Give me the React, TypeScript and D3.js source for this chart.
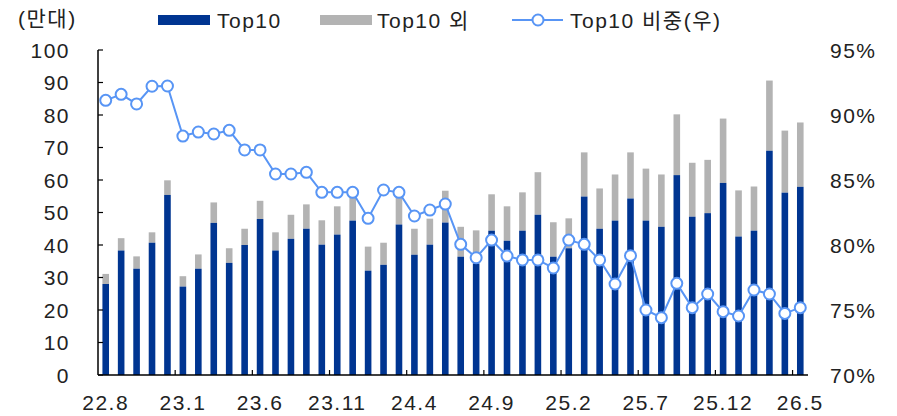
import React from 'react';
import * as d3 from 'd3';

const months: string[] = [];
{
  let y = 22, m = 8;
  for (let i = 0; i < 46; i++) {
    months.push(`${y}.${m}`);
    m++;
    if (m > 12) { m = 1; y++; }
  }
}
const tickLabels = ['22.8', '23.1', '23.6', '23.11', '24.4', '24.9', '25.2', '25.7', '25.12', '26.5'];

const top10 = [28.0, 38.3, 32.7, 40.7, 55.4, 27.2, 32.7, 46.8, 34.5, 40.0, 48.0, 38.3, 41.9, 45.0, 40.1, 43.2, 47.5, 32.1, 33.9, 46.3, 37.0, 40.1, 46.9, 36.4, 34.3, 44.4, 41.3, 44.4, 49.3, 36.4, 39.0, 54.9, 45.0, 47.5, 54.3, 47.5, 45.6, 61.5, 48.7, 49.8, 59.1, 42.6, 44.4, 69.0, 56.1, 57.9];
const total = [31.1, 42.1, 36.5, 43.9, 59.9, 30.4, 37.1, 53.1, 39.0, 45.0, 53.6, 43.9, 49.3, 52.5, 47.6, 51.9, 56.0, 39.5, 40.7, 55.0, 45.0, 48.1, 56.7, 45.6, 44.5, 55.6, 51.9, 56.2, 62.4, 47.0, 48.2, 68.5, 57.4, 61.7, 68.5, 63.5, 61.7, 80.2, 65.3, 66.2, 78.9, 56.8, 58.0, 90.6, 75.2, 77.7];
const share = [91.13, 91.59, 90.85, 92.21, 92.23, 88.38, 88.69, 88.54, 88.82, 87.31, 87.31, 85.46, 85.46, 85.59, 84.05, 84.05, 84.05, 82.05, 84.23, 84.05, 82.23, 82.69, 83.15, 80.05, 79.02, 80.38, 79.15, 78.85, 78.85, 78.23, 80.38, 80.05, 78.85, 77.0, 79.18, 75.0, 74.41, 77.05, 75.18, 76.23, 74.87, 74.54, 76.54, 76.23, 74.74, 75.18];

const leftTicks = [0, 10, 20, 30, 40, 50, 60, 70, 80, 90, 100];
const rightTicks = [70, 75, 80, 85, 90, 95];

const BLUE = '#003591';
const GRAY = '#b3b3b3';
const LINE = '#5895f5';
const FONT = '"Liberation Sans", "Noto Sans CJK KR", sans-serif';

export default function App() {
  const W = 897, H = 416;
  const x0 = 98, x1 = 808, yTop = 50, yBot = 375;
  const x = d3.scaleBand<string>().domain(months).range([x0, x1]).paddingInner(0.58).paddingOuter(0.29);
  const band = d3.scaleBand<string>().domain(months).range([x0, x1]).padding(0);
  const yL = d3.scaleLinear().domain([0, 100]).range([yBot, yTop]);
  const yR = d3.scaleLinear().domain([70, 95]).range([yBot, yTop]);
  const cx = (m: string) => (band(m) as number) + band.bandwidth() / 2;
  const line = d3.line<number>().x((_, i) => cx(months[i])).y(d => yR(d));
  const fs = 21;
  const ls = 1.5;
  return (
    <svg width={W} height={H} style={{ position: 'absolute', left: 0, top: 0, background: '#fff' }} fontFamily={FONT}>
      {/* bars */}
      {months.map((m, i) => (
        <g key={m}>
          <rect x={cx(m) - 3.3} width={6.6} y={yL(total[i])} height={yL(top10[i]) - yL(total[i])} fill={GRAY} />
          <rect x={cx(m) - 3.3} width={6.6} y={yL(top10[i])} height={yBot - yL(top10[i])} fill={BLUE} />
        </g>
      ))}
      {/* axes */}
      <line x1={x0} x2={x0} y1={yTop} y2={yBot} stroke="#000" strokeWidth={1.5} />
      <line x1={x0} x2={x1} y1={yBot} y2={yBot} stroke="#000" strokeWidth={1.5} />
      {leftTicks.map(t => (
        <g key={t}>
          <line x1={x0} x2={x0 + 5} y1={yL(t)} y2={yL(t)} stroke="#000" strokeWidth={1.2} />
          <text x={70} y={yL(t)} dy="0.36em" textAnchor="end" fontSize={fs} letterSpacing={ls} fill="#222">{t}</text>
        </g>
      ))}
      {rightTicks.map(t => (
        <text key={t} x={830} y={yR(t)} dy="0.36em" textAnchor="start" fontSize={fs} letterSpacing={ls} fill="#222">{t}%</text>
      ))}
      {tickLabels.map(lab => {
        const idx = months.indexOf(lab);
        return (
          <g key={lab}>
            {idx > 0 && <line x1={band(lab) as number} x2={band(lab) as number} y1={yBot} y2={yBot - 5} stroke="#000" strokeWidth={1.2} />}
            <text x={cx(lab)} y={410} textAnchor="middle" fontSize={fs} letterSpacing={ls} fill="#222">{lab}</text>
          </g>
        );
      })}
      {/* line */}
      <path d={line(share) || ''} fill="none" stroke={LINE} strokeWidth={2} />
      {share.map((v, i) => (
        <circle key={i} cx={cx(months[i])} cy={yR(v)} r={5.5} fill="#fff" stroke={LINE} strokeWidth={2} />
      ))}
      {/* legend */}
      <text x={18} y={18} dy="0.36em" fontSize={fs} letterSpacing={ls} fill="#222">(만대)</text>
      <rect x={158} y={15} width={52} height={10} fill={BLUE} />
      <text x={217} y={20} dy="0.36em" fontSize={fs} letterSpacing={ls} fill="#222">Top10</text>
      <rect x={320} y={15} width={52} height={10} fill={GRAY} />
      <text x={377} y={20} dy="0.36em" fontSize={fs} letterSpacing={ls} fill="#222">Top10 외</text>
      <line x1={512} x2={563} y1={20} y2={20} stroke={LINE} strokeWidth={2} />
      <circle cx={538} cy={20} r={5.5} fill="#fff" stroke={LINE} strokeWidth={2} />
      <text x={570} y={20} dy="0.36em" fontSize={fs} letterSpacing={ls} fill="#222">Top10 비중(우)</text>
    </svg>
  );
}
